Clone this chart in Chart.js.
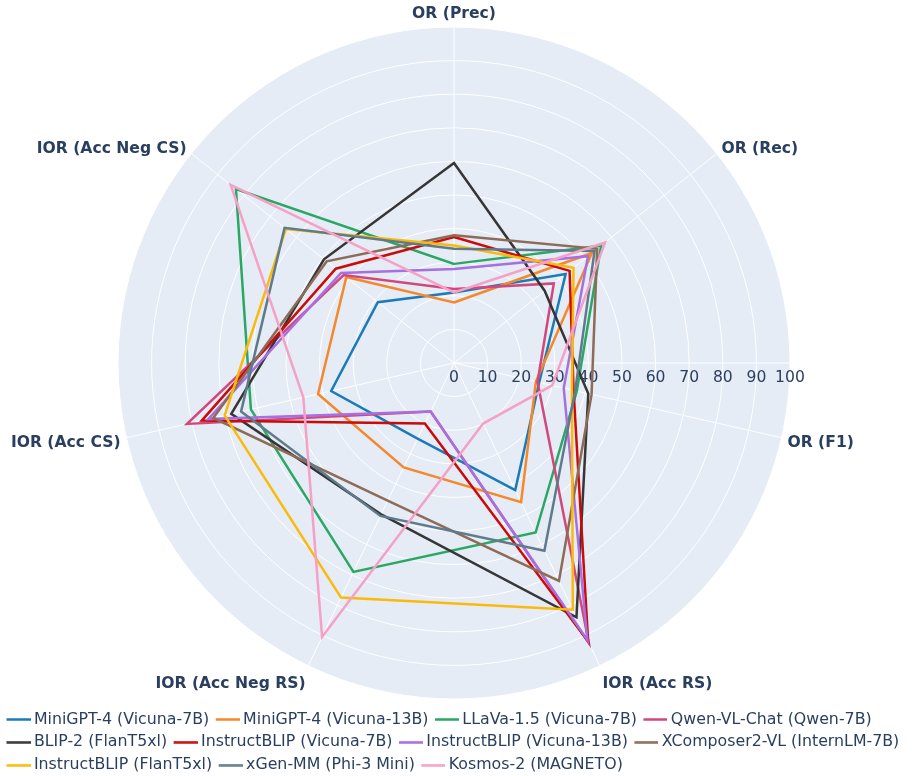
<!DOCTYPE html>
<html>
<head>
<meta charset="utf-8">
<script src="https://cdn.jsdelivr.net/npm/chart.js@4.4.1/dist/chart.umd.min.js"></script>
<style>
html, body { margin: 0; padding: 0; background: #fff; overflow: hidden; }
#wrap { width: 912px; height: 776px; overflow: hidden; }
</style>
</head>
<body>
<div id="wrap"><canvas id="chart" width="912" height="783"></canvas></div>
<script>
// Axes of the radar, clockwise from the top
const categories = ['OR (Prec)', 'OR (Rec)', 'OR (F1)', 'IOR (Acc RS)', 'IOR (Acc Neg RS)', 'IOR (Acc CS)', 'IOR (Acc Neg CS)'];
const radialTicks = [0, 10, 20, 30, 40, 50, 60, 70, 80, 90, 100];

// Values, same order as categories
const minigpt4_7b   = [21, 42.5, 26, 42, 25, 37.5, 29];
const minigpt4_13b  = [18, 52.5, 25, 46, 34.5, 41.5, 41];
const llava15_7b    = [29.5, 56, 37.5, 56, 69, 62, 83];
const qwenvl_chat   = [22, 38, 25.5, 92.5, 16, 81.5, 42];
const blip2_t5      = [59.5, 34.5, 41, 84, 50, 68, 49.5];
const iblip_7b      = [37.5, 44, 36.5, 92, 20, 77, 45];
const iblip_13b     = [28, 51, 33.5, 91.5, 16, 75, 43];
const xcomposer2    = [38, 54.5, 42, 72, 45.5, 73.5, 48.5];
const iblip_t5      = [35, 45.5, 36, 81.5, 77.5, 70, 64];
const xgenmm_phi3   = [34, 53.5, 37, 62, 50.5, 65, 64.5];
const kosmos2       = [21, 57.5, 30, 20, 90.5, 46, 85];

const models = [
    ['MiniGPT-4 (Vicuna-7B)', minigpt4_7b, '#1b7bb6'],
    ['MiniGPT-4 (Vicuna-13B)', minigpt4_13b, '#f5882c'],
    ['LLaVa-1.5 (Vicuna-7B)', llava15_7b, '#2aa764'],
    ['Qwen-VL-Chat (Qwen-7B)', qwenvl_chat, '#d1487c'],
    ['BLIP-2 (FlanT5xl)', blip2_t5, '#363636'],
    ['InstructBLIP (Vicuna-7B)', iblip_7b, '#cc0a0a'],
    ['InstructBLIP (Vicuna-13B)', iblip_13b, '#a76fe0'],
    ['XComposer2-VL (InternLM-7B)', xcomposer2, '#8d6b57'],
    ['InstructBLIP (FlanT5xl)', iblip_t5, '#fbba0a'],
    ['xGen-MM (Phi-3 Mini)', xgenmm_phi3, '#5f7b8b'],
    ['Kosmos-2 (MAGNETO)', kosmos2, '#f5a0c4']
];

const textColor = '#2a3f5f';
const fontFamily = '"DejaVu Sans", sans-serif';

// small line used as the legend symbol
function lineSwatch(color){
    const c = document.createElement('canvas');
    c.width = 28;
    c.height = 3;
    const g = c.getContext('2d');
    g.fillStyle = color;
    g.fillRect(4, 0.25, 24, 2.5);
    return c;
}

// polar background, radial axis numbers and the outer labels
const polarDecor = {
    id: 'polarDecor',
    beforeDraw(chart){
        const r = chart.scales.r;
        const ctx = chart.ctx;
        ctx.save();
        ctx.fillStyle = '#e5ecf6';
        ctx.beginPath();
        ctx.arc(r.xCenter, r.yCenter, r.drawingArea, 0, Math.PI * 2);
        ctx.fill();
        ctx.restore();
    },
    beforeDatasetsDraw(chart){
        const r = chart.scales.r;
        const ctx = chart.ctx;
        ctx.save();
        ctx.strokeStyle = '#ffffff';
        ctx.lineWidth = 1;
        ctx.beginPath();
        ctx.moveTo(r.xCenter, r.yCenter);
        ctx.lineTo(r.xCenter + r.drawingArea, r.yCenter);
        ctx.stroke();
        ctx.font = '15.6px ' + fontFamily;
        ctx.fillStyle = textColor;
        ctx.textAlign = 'center';
        ctx.textBaseline = 'middle';
        radialTicks.forEach(v => {
            ctx.fillText(String(v), r.xCenter + r.getDistanceFromCenterForValue(v), r.yCenter + 15);
        });
        ctx.restore();
    },
    afterDraw(chart){
        const r = chart.scales.r;
        const ctx = chart.ctx;
        ctx.save();
        ctx.font = 'bold 15.6px ' + fontFamily;
        ctx.fillStyle = textColor;
        chart.data.labels.forEach((label, i) => {
            const a = r.getIndexAngle(i);
            const s = Math.sin(a), c = Math.cos(a);
            const p = r.getPointPosition(i, r.drawingArea);
            if (Math.abs(s) < 0.01){
                ctx.textAlign = 'center';
                ctx.textBaseline = 'bottom';
                ctx.fillText(label, p.x, p.y - 5);
                return;
            }
            ctx.textAlign = s > 0 ? 'left' : 'right';
            ctx.textBaseline = 'middle';
            const dy = c > 0 ? -4.5 : (c > -0.5 ? 5.2 : 18.3);
            ctx.fillText(label, p.x + s * 6, p.y + dy);
        });
        ctx.restore();
    }
};

new Chart(document.getElementById('chart').getContext('2d'), {
    type: 'radar',
    data: {
        labels: categories,
        datasets: models.map(([name, values, color], i) => ({
            label: name,
            data: values,
            borderColor: color,
            backgroundColor: color,
            borderWidth: 2.5,
            fill: false,
            pointRadius: 0,
            pointHoverRadius: 0,
            pointStyle: lineSwatch(color),
            order: -i
        }))
    },
    options: {
        responsive: false,
        animation: false,
        events: [],
        layout: { padding: { top: 27, right: 4, left: 0, bottom: 0 } },
        scales: {
            r: {
                min: 0,
                max: 100,
                ticks: { display: false, stepSize: 10 },
                pointLabels: { display: false },
                grid: { circular: true, color: '#ffffff', lineWidth: 1 },
                angleLines: { color: '#ffffff', lineWidth: 1 }
            }
        },
        plugins: {
            tooltip: { enabled: false },
            legend: {
                position: 'bottom',
                align: 'start',
                title: { display: true, text: ' ', font: { size: 4 }, padding: 0 },
                labels: {
                    usePointStyle: true,
                    pointStyleWidth: 19,
                    padding: 7,
                    color: textColor,
                    font: { family: fontFamily, size: 15.8 },
                    sort: (a, b) => a.datasetIndex - b.datasetIndex
                }
            }
        }
    },
    plugins: [polarDecor]
});
</script>
</body>
</html>
